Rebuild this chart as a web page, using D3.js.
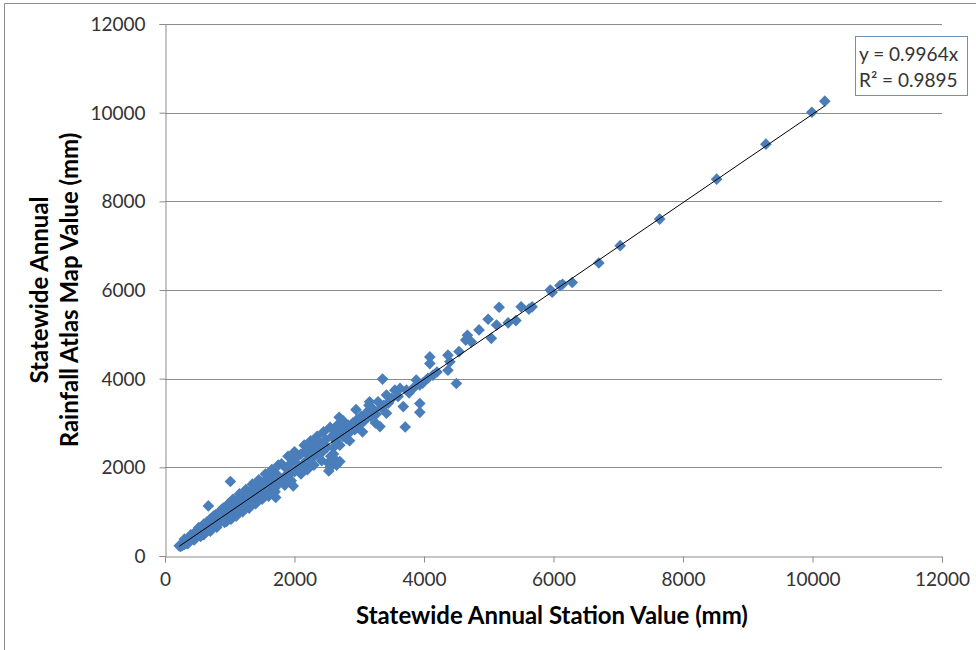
<!DOCTYPE html>
<html>
<head>
<meta charset="utf-8">
<script src="https://cdn.jsdelivr.net/npm/d3@7"></script>
<style>
  body { margin: 0; background: #fff; }
  text { font-family: Lato, "Open Sans", sans-serif; }
</style>
</head>
<body>
<svg id="chart" width="976" height="650"></svg>
<script>
// station value (x) and rainfall atlas map value (y), mm
const stationValues = [
  220,240,260,270,290,300,310,330,340,350,360,380,390,400,420,430,440,450,460,480,
  490,500,510,520,540,550,560,570,590,600,610,630,640,650,660,680,690,700,
  670,720,730,750,760,780,790,800,820,830,850,860,870,890,900,920,930,950,960,980,
  990,1000,1010,1030,1040,1060,1080,1090,1110,1130,1140,1160,1180,1190,1210,1230,1250,1260,1280,1300,
  1310,1330,1350,1360,1380,1400,1420,1440,1460,1480,
  1500,1520,1540,1570,1590,1610,1640,1660,1690,1710,1720,1740,1770,1800,1810,1840,1870,1890,1920,1950,
  1980,2000,2020,2050,2070,2100,2120,2150,2180,2200,2230,2250,2270,2300,2330,2350,2380,2400,2430,2460,
  2480,2500,2520,2530,2550,2560,2580,2600,2610,2620,2640,2650,2660,2680,2690,2700,2700,2720,2750,2780,
  2800,2830,2860,2900,2930,2960,3000,3030,3080,3120,3160,3180,3220,3260,3290,3320,3340,3360,3380,
  3420,3420,3450,3500,3550,3600,3630,3680,3710,3730,3770,3830,3880,3935,3935,3935,3980,4060,4090,4090,
  4140,4200,4370,4370,4400,4500,4540,4645,4670,4730,4850,4990,5040,5120,5160,5300,5420,5500,5620,5670,
  5950,5980,6100,6140,6290,6700,7030,7640,8520,9280,9990,10190,
  520,600,700,780,850,900,950,1050,1100,1150,1200,1250,1300,1350,1400,1450,1500,1550,1600,1650,
  1700,1750,1850,1900,1950,2000,2100,2150,2200,2250,2300,2350,2420,2450,2550,2600,2750,2850,2950,3050,
  3150,3250,
  300,350,400,450,500,550,600,650,700,750,800,870,920,980,1020
];
const atlasValues = [
  230,215,270,240,300,260,330,290,370,320,300,410,350,380,450,390,500,410,430,520,
  450,470,560,480,600,500,530,620,540,660,570,590,700,610,640,740,630,670,
  1130,800,690,720,830,700,760,880,760,800,950,790,830,980,840,870,1030,880,920,1100,
  900,960,1680,1150,960,1010,1220,1000,1070,1260,1060,1120,1330,1100,1160,1380,1150,1220,1420,1200,
  1280,1480,1250,1320,1530,1300,1380,1600,1340,1420,
  1650,1400,1480,1720,1460,1560,1780,1520,1620,1320,1850,1600,1700,2080,1680,1780,1980,1750,1850,2100,
  1580,1900,2200,1950,2020,2300,2000,2100,2380,2150,2250,2450,2200,2280,2500,2300,2420,2550,2350,2480,
  2620,2450,2100,1920,2000,2250,2700,2450,2200,2850,2600,2050,2950,2750,3130,2130,2500,2900,2700,2850,
  2650,2950,2800,3000,2850,3070,2950,3150,3050,3250,3480,3150,3300,3200,3480,2920,3350,3990,3400,
  3630,3220,3450,3550,3740,3600,3780,3370,2910,3740,3680,3780,3970,3860,3440,3240,3900,4010,4490,4340,
  4080,4150,4530,4190,4380,3890,4610,4870,4980,4830,5100,5340,4910,5210,5610,5260,5310,5620,5570,5620,
  6000,5950,6100,6130,6170,6610,7000,7600,8500,9290,10010,10260,
  640,720,830,930,1000,1080,780,1280,900,1400,1000,1500,1080,1620,1180,1720,1280,1850,1350,1950,
  1450,2050,1600,2250,1700,2350,1850,2500,1950,2600,2050,2700,2150,2800,2900,2300,3050,2600,3300,2800,
  3400,3000,
  380,280,480,360,580,440,480,770,560,900,650,1040,760,1180,830
];
const xTicks = [0, 2000, 4000, 6000, 8000, 10000, 12000];
const yTicks = [0, 2000, 4000, 6000, 8000, 10000, 12000];
const trendSlope = 0.9964;
const equationLines = ["y = 0.9964x", "R² = 0.9895"];

const points = stationValues.map((s, i) => ({ x: s, y: atlasValues[i] }));

const svg = d3.select('#chart');
const margin = { top: 24, right: 34, bottom: 94, left: 165 };
const width = 976, height = 650;

const x = d3.scaleLinear().domain([0, 12000]).range([margin.left, width - margin.right]);
const y = d3.scaleLinear().domain([0, 12000]).range([height - margin.bottom, margin.top]);

// outer frame (left and top edges visible)
svg.append('path')
  .attr('d', `M4.5,650 V3.5 H976`)
  .attr('fill', 'none')
  .attr('stroke', '#8c8c8c');

// horizontal gridlines
svg.append('g')
  .selectAll('line')
  .data(yTicks.filter(d => d > 0))
  .join('line')
    .attr('x1', x(0)).attr('x2', x(12000))
    .attr('y1', d => Math.round(y(d)) + 0.5).attr('y2', d => Math.round(y(d)) + 0.5)
    .attr('stroke', '#8c8c8c');

// axes
const xAxis = svg.append('g')
  .attr('transform', `translate(0,${Math.round(y(0)) + 0.5})`)
  .call(d3.axisBottom(x).tickValues(xTicks).tickSize(6).tickPadding(10).tickFormat(d3.format('d')));
const yAxis = svg.append('g')
  .attr('transform', `translate(${Math.round(x(0)) + 0.5},0)`)
  .call(d3.axisLeft(y).tickValues(yTicks).tickSize(6).tickPadding(14).tickFormat(d3.format('d')));

[xAxis, yAxis].forEach(g => {
  g.select('.domain').attr('stroke', '#8c8c8c');
  g.selectAll('.tick line').attr('stroke', '#8c8c8c');
  g.selectAll('.tick text')
    .attr('fill', '#333')
    .style('font-family', 'Lato, sans-serif')
    .style('font-size', '19px');
});
yAxis.selectAll('.tick text').attr('dy', '0.35em');

// data markers (diamonds)
const diamond = d3.symbol().type(d3.symbolSquare).size(68);
svg.append('g')
  .attr('fill', '#4a7ebb')
  .selectAll('path')
  .data(points)
  .join('path')
    .attr('d', diamond)
    .attr('transform', d => `translate(${x(d.x)},${y(d.y)}) rotate(45)`);

// linear trendline through origin
const xMin = d3.min(stationValues), xMax = d3.max(stationValues);
svg.append('line')
  .attr('x1', x(xMin)).attr('y1', y(trendSlope * xMin))
  .attr('x2', x(xMax)).attr('y2', y(trendSlope * xMax))
  .attr('stroke', '#000')
  .attr('stroke-width', 1);

// equation label
svg.append('rect')
  .attr('x', 855.5).attr('y', 36.5)
  .attr('width', 112).attr('height', 59)
  .attr('fill', '#fff')
  .attr('stroke', '#6f8fb8');
svg.append('g')
  .selectAll('text')
  .data(equationLines)
  .join('text')
    .attr('x', 859)
    .attr('y', (d, i) => 61 + i * 26)
    .attr('fill', '#333')
    .style('font-size', '19px')
    .text(d => d);

// fit a text element to a target width by adjusting its font size
function fitWidth(sel, target) {
  const w = sel.node().getComputedTextLength();
  const fs = parseFloat(sel.style('font-size'));
  sel.style('font-size', (fs * target / w) + 'px');
}

// axis titles
const xTitle = svg.append('text')
  .attr('x', 552).attr('y', 624)
  .attr('text-anchor', 'middle')
  .attr('fill', '#000')
  .style('font-weight', 'bold')
  .style('font-size', '21px')
  .text('Statewide Annual Station Value (mm)');
fitWidth(xTitle, 392);

const yTitle = svg.append('text')
  .attr('transform', 'translate(48,290) rotate(-90)')
  .attr('text-anchor', 'middle')
  .attr('fill', '#000')
  .style('font-weight', 'bold')
  .style('font-size', xTitle.style('font-size'));
yTitle.append('tspan').attr('x', 0).attr('dy', 0).text('Statewide Annual');
yTitle.append('tspan').attr('x', 0).attr('dy', 30).text('Rainfall Atlas Map Value (mm)');
</script>
</body>
</html>
